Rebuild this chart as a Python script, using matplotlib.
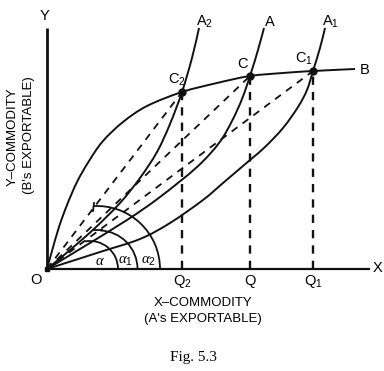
import numpy as np
import matplotlib
matplotlib.use("Agg")
import matplotlib.pyplot as plt
from matplotlib.patches import Arc, PathPatch
from matplotlib.path import Path

# offer curves (quantity of X exported, quantity of Y received)
b_x = [0, 5, 12, 20, 30, 42, 56, 76, 100, 135, 170, 203, 236, 266, 308]
b_y = [0, 18, 42, 64, 87, 108, 128, 147, 163, 177, 186, 193, 196, 198, 200]

a2_x = [0, 23, 48, 73, 93, 110, 123, 135, 145, 152]
a2_y = [0, 19, 41, 66, 91, 117, 145, 177, 211, 241]

a_x = [0, 33, 80, 113, 150, 172, 185, 195, 203, 211, 217]
a_y = [0, 20, 49, 72, 102, 126, 148, 170, 193, 219, 241]

a1_x = [0, 53, 93, 123, 156, 176, 203, 218, 236, 251, 260, 266, 273, 278]
a1_y = [0, 17, 30, 46, 69, 86, 109, 122, 141, 162, 179, 198, 221, 241]

# equilibrium points
eq_names = ["C$_2$", "C", "C$_1$"]
eq_x = [135, 203, 266]
eq_y = [177, 193, 198]
q_names = ["Q$_2$", "Q", "Q$_1$"]

curve_names = ["A$_2$", "A", "A$_1$"]
angle_names = [r"$\alpha$", r"$\alpha_1$", r"$\alpha_2$"]

ink = "#111111"
plt.rcParams["font.family"] = ["Liberation Sans", "DejaVu Sans"]
plt.rcParams["mathtext.fontset"] = "custom"
plt.rcParams["mathtext.rm"] = "Liberation Sans"
plt.rcParams["mathtext.it"] = "Liberation Serif:italic"


def smooth_path(xs, ys):
    # cubic bezier segments through the given points (catmull-rom tangents)
    p = np.column_stack([xs, ys]).astype(float)
    verts = [p[0]]
    codes = [Path.MOVETO]
    for i in range(len(p) - 1):
        p0 = p[i - 1] if i > 0 else p[i]
        p3 = p[i + 2] if i + 2 < len(p) else p[i + 1]
        c1 = p[i] + (p[i + 1] - p0) / 6
        c2 = p[i + 1] - (p3 - p[i]) / 6
        verts += [c1, c2, p[i + 1]]
        codes += [Path.CURVE4] * 3
    return Path(verts, codes)


fig = plt.figure(figsize=(3.84, 3.71), dpi=100)
ax = fig.add_axes([0, 0, 1, 1])
ax.set_xlim(-47, 337)
ax.set_ylim(-102, 269)
ax.axis("off")

# axes
ax.plot([0, 0], [0, 241], color=ink, lw=2.0, solid_capstyle="butt")
ax.plot([0, 323], [0, 0], color=ink, lw=1.6, solid_capstyle="butt")
ax.plot(0, 0, "s", color=ink, ms=3)

# curves
for cx, cy in [(b_x, b_y), (a2_x, a2_y), (a_x, a_y), (a1_x, a1_y)]:
    ax.add_patch(PathPatch(smooth_path(cx, cy), fill=False, edgecolor=ink, lw=1.4))

# rays and drop lines
for x, y in zip(eq_x, eq_y):
    ax.plot([0, x], [0, y], color=ink, lw=1.3, dashes=(4, 3.5))
    ax.plot([x, x], [0, y], color=ink, lw=1.7, dashes=(3.5, 3))
ax.plot(eq_x, eq_y, "o", color=ink, ms=5)

# angle arcs
for cx, r, t2 in [(43, 28, 100), (52, 38.5, 88), (50, 63, 93)]:
    ax.add_patch(Arc((cx, 0), 2 * r, 2 * r, theta1=0, theta2=t2, color=ink, lw=1.3))
ax.plot([47, 55], [39, 39], color=ink, lw=1.3)
ax.plot([46, 47], [58, 66], color=ink, lw=1.3)

# labels
fs = 10.5
ax.text(-2, 253, "Y", fontsize=fs, ha="center", va="center")
ax.text(331, 1, "X", fontsize=fs, ha="center", va="center")
ax.text(-11, -11, "O", fontsize=fs, ha="center", va="center")
ax.text(318, 199, "B", fontsize=fs, ha="center", va="center")
label_dx = [-5, -7, -9]
for name, x, y, dx in zip(eq_names, eq_x, eq_y, label_dx):
    ax.text(x + dx, y + 12, name, fontsize=fs, ha="center", va="center")
for name, x in zip(q_names, eq_x):
    ax.text(x, -12, name, fontsize=fs, ha="center", va="center")
for name, cx, cy in zip(curve_names, [a2_x, a_x, a1_x], [a2_y, a_y, a1_y]):
    ax.text(cx[-1] + 6, cy[-1] + 6, name, fontsize=fs, ha="center", va="center")
for name, x in zip(angle_names, [53, 78, 101]):
    ax.text(x, 8, name, fontsize=10.5, ha="center", va="center")

ax.text(156, -34, "X\u2013COMMODITY", fontsize=9.5, ha="center", va="center")
ax.text(156, -50, "(A's EXPORTABLE)", fontsize=9.5, ha="center", va="center")
ax.text(-34, 132, "Y\u2013COMMODITY", fontsize=9.5, ha="center", va="center", rotation=90)
ax.text(-18, 134, "(B's EXPORTABLE)", fontsize=9.5, ha="center", va="center", rotation=90)

ax.text(146, -88, "Fig. 5.3", fontsize=11, ha="center", va="center",
        family=["Liberation Serif", "DejaVu Serif"])

fig.savefig("out.png", dpi=100, facecolor="white")
